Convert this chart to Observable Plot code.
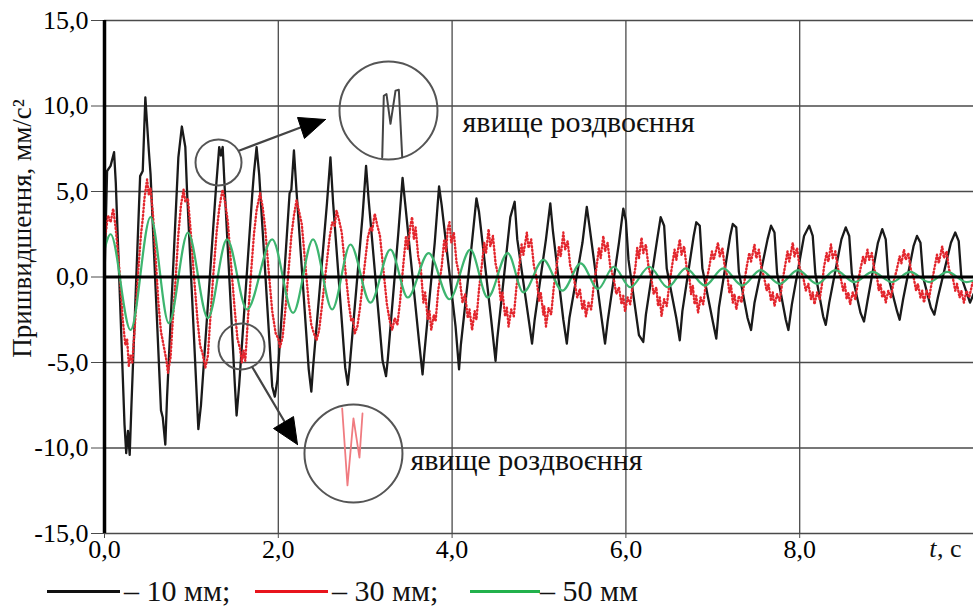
<!DOCTYPE html>
<html>
<head>
<meta charset="utf-8">
<script src="https://cdn.jsdelivr.net/npm/d3@7"></script>
<script src="https://cdn.jsdelivr.net/npm/@observablehq/plot@0.6"></script>
<style>
  @font-face { font-family: "RefSerif"; src: local("Liberation Serif"), local("LiberationSerif"), local("LiberationSerif-Regular"), local("Tinos"), local("DejaVu Serif"); font-style: normal; }
  @font-face { font-family: "RefSerif"; src: local("Liberation Serif Italic"), local("LiberationSerif-Italic"), local("Tinos Italic"); font-style: italic; }
  .c1 { font-family: 'Liberation Serif', RefSerif, 'DejaVu Serif', serif; }
  body { margin: 0; background: #fff; }
  #wrap { position: relative; width: 973px; height: 606px; }
  .lg-line { position: absolute; height: 3px; top: 590px; }
  .lg-text { position: absolute; top: 573px; font-size: 30px; line-height: 36px; color: #111; white-space: nowrap; }
</style>
</head>
<body style="margin:0">
<div id="wrap" class="c1">
  <div id="chart"></div>
  <div id="legend"></div>
</div>
<script>
// ---- axis ticks ----
const xTicks = [0, 2, 4, 6, 8];
const yTicks = [-15, -10, -5, 0, 5, 10, 15];
const xGrid = [2, 4, 6, 8];
const yGrid = [-15, -10, -5, 5, 10, 15];
const yLabel = "Пришвидшення, мм/с²";
const xLabelT = "t";
const xLabelUnit = ", c";
const seriesNames = ["– 10 мм;", "– 30 мм;", "– 50 мм"];
const seriesColors = ["#111111", "#e8141c", "#22b14c"];

// ---- series: [t (s), acceleration (mm/s²)] ----
const black10 = [
[0.00,0.0],[0.03,6.2],[0.07,6.5],[0.11,7.3],[0.13,5.5],
[0.23,-8.6],[0.25,-10.3],[0.27,-9.0],[0.29,-10.4],[0.31,-7.5],
[0.41,5.9],[0.44,6.2],[0.47,10.5],[0.51,7.4],[0.53,6.0],
[0.65,-7.8],[0.67,-8.2],[0.70,-9.8],[0.72,-7.0],
[0.85,7.0],[0.89,8.8],[0.93,7.6],[0.95,5.0],
[1.08,-8.9],[1.11,-7.5],
[1.28,5.0],[1.32,7.6],[1.34,7.1],[1.36,7.6],[1.39,4.5],
[1.50,-6.3],[1.52,-8.1],[1.55,-6.3],
[1.70,4.8],[1.72,6.1],[1.75,7.6],[1.78,6.0],
[1.93,-6.4],[1.96,-7.0],[1.99,-6.0],
[2.13,4.9],[2.15,5.1],[2.18,7.4],[2.21,5.0],
[2.35,-5.4],[2.38,-6.7],[2.40,-5.3],
[2.56,4.3],[2.60,7.0],[2.63,4.4],
[2.77,-5.3],[2.80,-6.3],[2.82,-5.3],
[2.97,3.6],[3.01,6.5],[3.04,4.5],
[3.20,-4.9],[3.24,-5.8],[3.26,-4.8],
[3.38,2.5],[3.43,5.8],[3.46,4.3],
[3.62,-3.8],[3.66,-5.7],[3.68,-4.5],
[3.80,2.0],[3.85,5.3],[3.88,4.2],
[4.04,-2.9],[4.08,-5.4],[4.10,-4.0],
[4.22,1.6],[4.28,4.6],[4.31,3.8],
[4.45,-2.5],[4.50,-4.9],[4.52,-3.6],
[4.67,3.5],[4.72,4.4],[4.75,2.2],
[4.89,-2.8],[4.92,-3.9],[4.95,-2.5],
[5.08,2.2],[5.13,4.3],[5.16,2.7],
[5.28,-2.5],[5.32,-3.9],[5.35,-2.4],
[5.50,2.0],[5.55,4.1],[5.58,3.0],
[5.72,-2.4],[5.76,-3.9],[5.79,-2.6],
[5.92,2.0],[5.97,4.0],[6.00,3.3],[6.03,1.0],
[6.15,-3.4],[6.20,-3.8],[6.23,-2.2],
[6.36,2.2],[6.40,3.5],[6.44,3.0],[6.47,0.5],
[6.58,-2.4],[6.62,-3.7],[6.65,-2.0],
[6.78,2.4],[6.81,3.2],[6.85,3.0],[6.88,0.5],
[7.00,-2.6],[7.04,-3.6],[7.07,-1.8],
[7.20,2.4],[7.23,3.1],[7.27,2.9],[7.30,0.3],
[7.40,-2.4],[7.44,-3.1],[7.48,-1.5],
[7.63,2.2],[7.67,3.0],[7.71,2.6],[7.74,0.2],
[7.84,-2.5],[7.87,-3.1],[7.91,-1.6],
[8.05,2.4],[8.11,3.0],[8.15,2.4],[8.18,0.2],
[8.27,-2.3],[8.30,-2.8],[8.34,-1.5],
[8.48,2.2],[8.53,2.9],[8.57,2.4],[8.60,0.2],
[8.70,-2.1],[8.74,-2.6],[8.78,-1.4],
[8.90,2.0],[8.95,2.8],[8.99,2.2],[9.02,0.0],
[9.12,-2.0],[9.15,-2.5],[9.19,-1.3],
[9.31,1.8],[9.35,2.4],[9.39,2.0],[9.42,0.0],
[9.51,-1.8],[9.55,-2.2],[9.59,-1.2],
[9.74,2.0],[9.79,2.6],[9.83,2.1],[9.86,0.0],
[9.96,-1.5],[10.0,-1.0]
];

const red30 = [
[0.00,2.0],[0.04,3.6],[0.07,3.2],[0.10,4.0],[0.13,2.8],[0.17,0.5],[0.21,-2.5],[0.24,-4.0],[0.26,-3.6],[0.28,-5.2],[0.30,-4.6],[0.32,-5.0],[0.35,-2.8],
[0.39,0.5],[0.42,2.5],[0.44,3.4],[0.46,4.6],[0.49,5.7],[0.51,4.8],[0.53,5.2],[0.56,3.5],[0.59,1.0],[0.62,-1.5],[0.65,-3.2],[0.68,-4.0],[0.71,-4.8],[0.73,-5.6],[0.76,-4.7],[0.78,-3.0],
[0.82,0.0],[0.85,2.5],[0.88,4.2],[0.91,5.1],[0.93,4.4],[0.96,4.6],[0.99,2.8],[1.03,0.0],[1.07,-2.5],[1.10,-4.0],[1.13,-4.5],[1.16,-5.3],[1.19,-4.6],[1.21,-3.0],
[1.25,0.0],[1.29,2.6],[1.32,4.0],[1.34,4.6],[1.36,5.1],[1.39,4.3],[1.42,3.2],[1.46,0.5],[1.50,-2.0],[1.53,-3.6],[1.56,-4.2],[1.58,-5.0],[1.60,-4.3],[1.62,-4.9],[1.65,-2.5],
[1.69,0.5],[1.72,2.5],[1.75,3.9],[1.77,4.4],[1.79,4.9],[1.82,4.1],[1.85,2.8],[1.89,0.3],[1.93,-2.0],[1.97,-3.3],[2.00,-3.6],[2.02,-4.1],[2.05,-3.5],[2.08,-2.0],
[2.12,0.5],[2.15,2.4],[2.18,3.6],[2.21,4.5],[2.24,3.8],[2.27,3.1],[2.31,0.8],[2.35,-1.5],[2.38,-2.8],[2.41,-3.3],[2.44,-3.7],[2.47,-3.1],[2.50,-1.8],
[2.55,0.5],[2.59,2.3],[2.62,3.2],[2.65,3.0],[2.67,3.9],[2.70,3.3],[2.73,2.6],[2.77,0.5],[2.81,-1.5],[2.84,-2.6],[2.86,-2.4],[2.88,-3.3],[2.91,-2.9],[2.94,-1.8],
[2.99,0.5],[3.03,2.3],[3.06,2.9],[3.08,2.7],[3.11,3.7],[3.14,3.0],[3.17,2.4],[3.21,0.4],[3.25,-1.6],[3.28,-2.5],[3.31,-3.1],[3.34,-2.4],[3.37,-2.8],[3.40,-1.5],
[3.44,0.8],[3.47,2.4],[3.49,1.6],[3.52,3.0],[3.54,3.5],[3.56,2.2],[3.58,2.9],[3.61,1.2],[3.64,0.5],[3.67,-1.5],[3.69,-0.9],[3.72,-2.5],[3.74,-2.0],[3.76,-3.1],[3.79,-2.2],[3.81,-2.6],[3.84,-0.8],
[3.88,0.6],[3.91,2.2],[3.93,1.5],[3.95,2.8],[3.97,3.2],[3.99,2.0],[4.02,2.6],[4.05,0.9],[4.08,0.2],[4.12,-1.5],[4.15,-1.0],[4.18,-2.4],[4.20,-1.9],[4.23,-3.1],[4.26,-2.0],[4.28,-2.5],[4.31,-0.7],
[4.34,0.6],[4.37,2.0],[4.39,1.4],[4.42,2.8],[4.44,1.8],[4.47,2.4],[4.50,0.8],[4.53,0.1],[4.56,-1.4],[4.58,-0.9],[4.61,-2.3],[4.63,-1.8],[4.65,-2.9],[4.68,-1.9],[4.71,-2.3],[4.74,-0.6],
[4.77,0.5],[4.80,1.9],[4.82,1.3],[4.86,2.6],[4.88,1.7],[4.91,2.2],[4.94,0.7],[4.97,0.0],[5.00,-1.4],[5.02,-0.9],[5.05,-2.2],[5.06,-1.7],[5.08,-2.9],[5.11,-1.8],[5.14,-2.2],[5.17,-0.6],
[5.20,0.5],[5.23,1.8],[5.25,1.2],[5.28,2.6],[5.30,1.6],[5.33,2.1],[5.36,0.6],[5.40,0.0],[5.44,-1.2],[5.47,-0.7],[5.50,-1.9],[5.52,-1.4],[5.54,-2.3],[5.57,-1.5],[5.60,-1.9],[5.63,-0.5],
[5.66,0.5],[5.69,1.7],[5.71,1.1],[5.74,2.4],[5.76,1.5],[5.79,2.0],[5.82,0.6],[5.86,-0.1],[5.89,-1.0],[5.92,-0.6],[5.95,-1.6],[5.97,-1.1],[5.99,-2.0],[6.02,-1.2],[6.05,-1.6],[6.08,-0.4],
[6.11,0.6],[6.13,1.7],[6.15,1.1],[6.18,2.3],[6.20,1.4],[6.23,1.9],[6.26,0.6],[6.29,0.0],[6.32,-1.0],[6.35,-0.6],[6.37,-1.7],[6.39,-1.2],[6.41,-2.3],[6.44,-1.3],[6.47,-1.7],[6.50,-0.4],
[6.53,0.6],[6.56,1.6],[6.58,1.0],[6.62,2.2],[6.64,1.3],[6.67,1.8],[6.70,0.5],[6.73,0.0],[6.75,-1.0],[6.77,-0.5],[6.79,-1.6],[6.81,-1.1],[6.83,-2.1],[6.86,-1.2],[6.89,-1.6],[6.92,-0.4],
[6.96,0.6],[6.99,1.5],[7.01,1.0],[7.06,2.0],[7.08,1.2],[7.11,1.7],[7.14,0.5],[7.17,0.0],[7.19,-0.9],[7.21,-0.5],[7.23,-1.5],[7.25,-1.0],[7.27,-1.9],[7.30,-1.1],[7.33,-1.5],[7.36,-0.4],
[7.39,0.6],[7.42,1.4],[7.44,0.9],[7.48,1.9],[7.50,1.1],[7.53,1.6],[7.56,0.5],[7.59,0.0],[7.62,-0.8],[7.64,-0.4],[7.67,-1.4],[7.69,-0.9],[7.71,-1.7],[7.74,-1.0],[7.77,-1.4],[7.80,-0.3],
[7.83,0.6],[7.86,1.5],[7.88,0.9],[7.92,2.0],[7.94,1.2],[7.97,1.7],[8.00,0.5],[8.04,0.0],[8.07,-0.8],[8.10,-0.4],[8.13,-1.3],[8.15,-0.9],[8.17,-1.6],[8.20,-0.9],[8.23,-1.3],[8.26,-0.3],
[8.28,0.6],[8.31,1.4],[8.33,0.9],[8.36,1.9],[8.38,1.1],[8.41,1.5],[8.44,0.5],[8.47,0.0],[8.50,-0.8],[8.52,-0.4],[8.54,-1.3],[8.56,-0.9],[8.58,-1.6],[8.61,-0.9],[8.64,-1.3],[8.67,-0.3],
[8.70,0.5],[8.73,1.2],[8.75,0.8],[8.78,1.6],[8.80,1.0],[8.83,1.4],[8.86,0.4],[8.89,0.0],[8.91,-0.8],[8.93,-0.4],[8.95,-1.2],[8.97,-0.8],[8.99,-1.5],[9.02,-0.8],[9.05,-1.2],[9.08,-0.3],
[9.12,0.5],[9.15,1.2],[9.17,0.8],[9.20,1.6],[9.22,1.0],[9.25,1.4],[9.28,0.4],[9.31,0.0],[9.34,-0.8],[9.36,-0.4],[9.39,-1.2],[9.41,-0.8],[9.43,-1.5],[9.46,-0.8],[9.49,-1.2],[9.52,-0.3],
[9.55,0.5],[9.58,1.3],[9.60,0.8],[9.64,1.8],[9.66,1.1],[9.69,1.5],[9.72,0.4],[9.76,0.0],[9.79,-0.8],[9.81,-0.4],[9.84,-1.2],[9.86,-0.8],[9.89,-1.5],[9.92,-0.8],[9.95,-1.2],[9.99,-0.3]
];

const green50 = [
[0.00,1.6],[0.07,2.5],[0.30,-3.1],[0.53,3.5],[0.74,-2.7],[0.96,2.6],[1.19,-2.4],[1.41,2.2],[1.64,-1.9],
[1.93,2.2],[2.17,-2.1],[2.40,2.2],[2.62,-1.9],[2.83,1.9],[3.06,-1.5],[3.29,1.6],[3.49,-1.2],[3.73,1.4],
[3.97,-1.3],[4.21,1.6],[4.41,-1.2],[4.64,1.4],[4.82,-0.9],[5.05,1.0],[5.27,-0.8],[5.48,0.8],[5.68,-0.7],
[5.86,0.6],[6.05,-0.6],[6.27,0.6],[6.48,-0.6],[6.69,0.5],[6.91,-0.5],[7.12,0.5],[7.34,-0.5],[7.55,0.4],
[7.77,-0.4],[7.98,0.4],[8.20,-0.4],[8.41,0.4],[8.63,-0.3],[8.84,0.3],[9.06,-0.3],[9.27,0.3],[9.49,-0.3],
[9.70,0.3],[9.92,-0.3],[10.0,-0.2]
];

// ---- annotations (data units) ----
const smallCircles = [[1.312, 6.70], [1.577, -4.06]];
const bigCircles = [[3.268, 9.74], [2.865, -10.32]];
const arrowLines = [
  [[1.554, 7.40], [2.255, 8.74]],
  [[1.703, -5.29], [2.071, -8.45]]
];
const arrowHeads = [
  [[2.543, 9.21], [2.301, 8.10], [2.221, 9.33], [2.543, 9.21]],
  [[2.221, -9.80], [1.945, -8.86], [2.175, -8.16], [2.221, -9.80]]
];
const insetBlack = [[3.196,7.0],[3.214,10.6],[3.245,10.7],[3.291,8.96],[3.349,10.9],[3.387,10.95],[3.426,7.0]];
const insetRed = [[2.735,-7.69],[2.796,-12.19],[2.865,-8.27],[2.934,-10.56],[2.969,-7.98]];
const noteText = "явище роздвоєння";
const notes = [[4.12, 9.04], [3.52, -10.73]];

const FONT = "'Liberation Serif', RefSerif, 'DejaVu Serif', serif";
const fmt = d => d.toFixed(1).replace(".", ",");
const X = d => d[0], Y = d => d[1];

const chart = Plot.plot({
  width: 973,
  height: 570,
  marginLeft: 104,
  marginRight: 0,
  marginTop: 20,
  marginBottom: 37,
  x: {domain: [0, 10]},
  y: {domain: [-15, 15]},
  style: {fontFamily: "'Liberation Serif', serif", fontSize: "26px"},
  marks: [
    Plot.ruleX(xGrid, {stroke: "#4a4a4a", strokeWidth: 1.3}),
    Plot.ruleY(yGrid, {stroke: "#4a4a4a", strokeWidth: 1.3}),
    Plot.axisY({ticks: yTicks, tickFormat: fmt, tickSize: 13, tickPadding: 3, label: null, stroke: "#4a4a4a", fontSize: 26}),
    Plot.axisX({ticks: xTicks, tickFormat: fmt, tickSize: 5, tickPadding: 1, label: null, stroke: "#4a4a4a", fontSize: 26}),
    Plot.line(black10, {x: X, y: Y, stroke: "#1a1a1a", strokeWidth: 2.3}),
    Plot.line(red30, {x: X, y: Y, stroke: "#e3262d", strokeWidth: 2.4, strokeDasharray: "1,2.6", strokeLinecap: "round"}),
    Plot.line(green50, {x: X, y: Y, curve: "monotone-x", stroke: "#3db56f", strokeWidth: 2.2}),
    Plot.ruleY([0], {stroke: "#000", strokeWidth: 3}),
    Plot.ruleX([0], {stroke: "#000", strokeWidth: 3.5}),
    // annotations
    Plot.dot(smallCircles, {x: X, y: Y, r: 23, stroke: "#555", strokeWidth: 2, fill: "none"}),
    Plot.dot(bigCircles, {x: X, y: Y, r: 49, stroke: "#555", strokeWidth: 2, fill: "none"}),
    ...arrowLines.map(a => Plot.line(a, {x: X, y: Y, stroke: "#444", strokeWidth: 2.2})),
    ...arrowHeads.map(a => Plot.line(a, {x: X, y: Y, stroke: "#000", fill: "#000", strokeWidth: 1})),
    Plot.line(insetBlack, {x: X, y: Y, stroke: "#444", strokeWidth: 2}),
    Plot.line(insetRed, {x: X, y: Y, stroke: "#f07b80", strokeWidth: 1.8}),
    Plot.text(notes, {x: X, y: Y, text: () => noteText, textAnchor: "start", fontSize: 30, fill: "#111"}),
    Plot.text([[-0.94, 2.84]], {x: X, y: Y, text: () => yLabel, rotate: -90, fontSize: 27, fill: "#111"}),
    Plot.text([[9.49, -15.88]], {x: X, y: Y, text: () => xLabelT, textAnchor: "start", fontSize: 26, fontStyle: "italic", fill: "#111"}),
    Plot.text([[9.58, -15.88]], {x: X, y: Y, text: () => xLabelUnit, textAnchor: "start", fontSize: 26, fill: "#111"})
  ]
});
chart.style.overflow = "visible";
chart.style.background = "#fff";
document.getElementById("chart").appendChild(chart);

// legend (HTML, below the SVG)
const legendPos = [{line: 47, w: 73, text: 124}, {line: 255, w: 73, text: 332}, {line: 470, w: 70, text: 540}];
const legend = document.getElementById("legend");
seriesNames.forEach((name, i) => {
  const ln = document.createElement("div");
  ln.className = "lg-line";
  ln.style.left = legendPos[i].line + "px";
  ln.style.width = legendPos[i].w + "px";
  ln.style.background = seriesColors[i];
  legend.appendChild(ln);
  const tx = document.createElement("div");
  tx.className = "lg-text";
  tx.style.left = legendPos[i].text + "px";
  tx.style.fontFamily = "'Liberation Serif', serif";
  tx.textContent = name;
  legend.appendChild(tx);
});
</script>
</body>
</html>
